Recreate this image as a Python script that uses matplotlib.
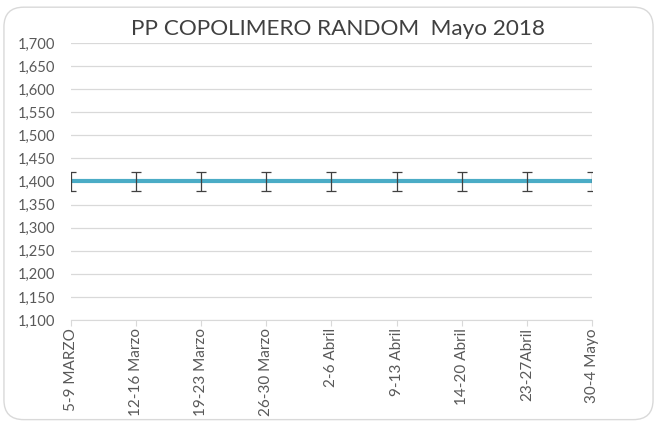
import matplotlib.pyplot as plt
from matplotlib.patches import FancyBboxPatch

semanas = ["5-9 MARZO", "12-16 Marzo", "19-23 Marzo", "26-30 Marzo", "2-6 Abril",
           "9-13 Abril", "14-20 Abril", "23-27Abril", "30-4 Mayo"]
precio = [1400, 1400, 1400, 1400, 1400, 1400, 1400, 1400, 1400]
error = [20, 20, 20, 20, 20, 20, 20, 20, 20]

plt.rcParams['font.family'] = ['Lato', 'DejaVu Sans']

fig = plt.figure(figsize=(6.57, 4.23), dpi=100)
fig.patch.set_facecolor("white")

# marco redondeado del grafico
marco = FancyBboxPatch((0.006, 0.008), 0.988, 0.975, boxstyle="round,pad=0,rounding_size=0.03",
                       transform=fig.transFigure, facecolor="white", edgecolor="#D9D9D9",
                       linewidth=1.0, mutation_aspect=657/423, zorder=-1)
fig.patches.append(marco)

ax = fig.add_axes([0.108, 0.2435, 0.793, 0.655])
ax.patch.set_alpha(0)
x = list(range(len(semanas)))
ax.plot(x, precio, color="#4BACC6", linewidth=3, zorder=3)
ax.errorbar(x, precio, yerr=error, fmt="none", ecolor="#404040", elinewidth=0.9,
            capsize=3.5, capthick=0.9, zorder=4)

ax.set_xlim(0, len(semanas) - 1)
ax.set_ylim(1100, 1700)
ax.set_yticks(range(1100, 1701, 50))
ax.set_yticklabels([f"{v:,}" for v in range(1100, 1701, 50)], fontsize=10.6, color="#595959")
ax.set_xticks(x)
ax.set_xticklabels(semanas, rotation=90, fontsize=11, color="#595959")
ax.grid(axis="y", color="#D9D9D9", linewidth=0.9)
ax.set_axisbelow(True)
for s in ["top", "right", "left"]:
    ax.spines[s].set_visible(False)
ax.spines["bottom"].set_color("#D9D9D9")
ax.tick_params(axis="y", length=0, pad=11.5)
ax.tick_params(axis="x", length=4, color="#D9D9D9", pad=2)

fig.text(0.514, 0.932, "PP COPOLIMERO RANDOM  Mayo 2018", ha="center", va="center",
         fontsize=16.2, color="#404040")

fig.savefig("out.png", dpi=100)
